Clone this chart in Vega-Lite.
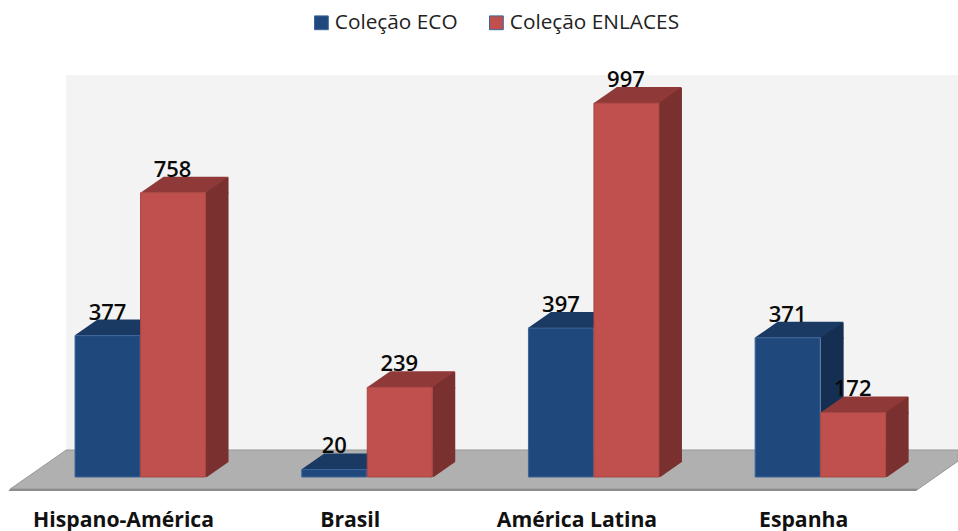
{
  "$schema": "https://vega.github.io/schema/vega-lite/v6.json",
  "width": 958,
  "height": 505,
  "padding": {"left": 0, "right": 0, "top": 0, "bottom": 26},
  "autosize": "none",
  "background": "white",
  "view": {"stroke": null},
  "config": {"font": "Open Sans"},
  "data": {"name": "colecoes"},
  "datasets": {
    "colecoes": [
      {"regiao": "Hispano-América", "colecao": "Coleção ECO", "total": 377},
      {"regiao": "Hispano-América", "colecao": "Coleção ENLACES", "total": 758},
      {"regiao": "Brasil", "colecao": "Coleção ECO", "total": 20},
      {"regiao": "Brasil", "colecao": "Coleção ENLACES", "total": 239},
      {"regiao": "América Latina", "colecao": "Coleção ECO", "total": 397},
      {"regiao": "América Latina", "colecao": "Coleção ENLACES", "total": 997},
      {"regiao": "Espanha", "colecao": "Coleção ECO", "total": 371},
      {"regiao": "Espanha", "colecao": "Coleção ENLACES", "total": 172}
    ],
    "ancora": [{"regiao": "Brasil", "total": 0}]
  },
  "encoding": {
    "x": {
      "field": "regiao",
      "type": "nominal",
      "sort": ["Hispano-América", "Brasil", "América Latina", "Espanha"],
      "scale": {"domain": ["Hispano-América", "Brasil", "América Latina", "Espanha"], "range": [27.2, 934], "paddingInner": 0, "paddingOuter": 0},
      "axis": {
        "title": null,
        "domain": false,
        "ticks": false,
        "labelAngle": 0,
        "labelOffset": -17,
        "labelPadding": 4,
        "labelFont": "Open Sans",
        "labelFontSize": 21.2,
        "labelFontWeight": "bold",
        "labelColor": "#111111",
        "labelLimit": 300
      }
    },
    "y": {
      "field": "total",
      "type": "quantitative",
      "scale": {"domain": [-74.67, 1272], "nice": false, "zero": false},
      "axis": null
    }
  },
  "layer": [
    {
      "description": "back wall",
      "data": {"name": "ancora"},
      "mark": {"type": "point", "shape": "M-301 -402L591 -402L591 -27L-301 -27Z", "size": 4, "filled": true, "opacity": 1, "fill": "#f3f3f3", "strokeWidth": 0}
    },
    {
      "description": "floor",
      "data": {"name": "ancora"},
      "mark": {"type": "point", "shape": "M-357 12L-301 -27L591 -27L591 -16L551 12Z", "size": 4, "filled": true, "opacity": 1, "fill": "#b0b0b0", "stroke": "#999999", "strokeWidth": 1}
    },
    {
      "description": "floor front edge",
      "data": {"name": "ancora"},
      "mark": {"type": "point", "shape": "M-357 12L551 12L549 14L-359 14Z", "size": 4, "filled": true, "opacity": 1, "fill": "#8c8c8c", "strokeWidth": 0}
    },
    {
      "description": "ECO side face",
      "transform": [{"filter": "datum.colecao === 'Coleção ECO'"}],
      "mark": {"type": "bar", "width": 23, "xOffset": 11.5, "fill": "#152f52"}
    },
    {
      "description": "ECO side face, upper block under the top face",
      "transform": [{"filter": "datum.colecao === 'Coleção ECO'"}],
      "mark": {"type": "point", "shape": "M0 1L0 -15.5L23 -15.5L23 1Z", "size": 4, "filled": true, "opacity": 1, "fill": "#152f52", "strokeWidth": 0}
    },
    {
      "description": "ECO top face",
      "transform": [{"filter": "datum.colecao === 'Coleção ECO'"}],
      "mark": {"type": "point", "shape": "M-66 0L-43 -16L23 -16L0 0Z", "size": 4, "filled": true, "opacity": 1, "fill": "#1a3a63", "strokeWidth": 0}
    },
    {
      "description": "ECO front face",
      "transform": [{"filter": "datum.colecao === 'Coleção ECO'"}],
      "mark": {"type": "bar", "width": 65, "xOffset": -33, "stroke": "#3a659c", "strokeWidth": 1},
      "encoding": {
        "color": {
          "field": "colecao",
          "type": "nominal",
          "scale": {"domain": ["Coleção ECO", "Coleção ENLACES"], "range": ["#1f497d", "#c0504d"]},
          "legend": {
            "title": null,
            "orient": "none",
            "legendX": 311,
            "legendY": 12,
            "direction": "horizontal",
            "symbolType": "square",
            "symbolSize": 190,
            "symbolStrokeWidth": 1,
            "labelFont": "Open Sans",
            "labelFontSize": 20.8,
            "labelColor": "#222222",
            "labelOffset": 3,
            "labelLimit": 300,
            "columnPadding": 28
          }
        }
      }
    },
    {
      "description": "ENLACES side face",
      "transform": [{"filter": "datum.colecao === 'Coleção ENLACES'"}],
      "mark": {"type": "bar", "width": 23, "xOffset": 76.5, "fill": "#7a302f"}
    },
    {
      "description": "ENLACES side face, upper block under the top face",
      "transform": [{"filter": "datum.colecao === 'Coleção ENLACES'"}],
      "mark": {"type": "point", "shape": "M65 1L65 -15.5L88 -15.5L88 1Z", "size": 4, "filled": true, "opacity": 1, "fill": "#7a302f", "strokeWidth": 0}
    },
    {
      "description": "floor showing under the slanted foot of the ENLACES side face",
      "transform": [{"filter": "datum.colecao === 'Coleção ENLACES'"}],
      "encoding": {"y": {"datum": 0}},
      "mark": {"type": "point", "shape": "M65 1L90 -16.4L90 1Z", "size": 4, "filled": true, "opacity": 1, "fill": "#b0b0b0", "strokeWidth": 0}
    },
    {
      "description": "ENLACES top face",
      "transform": [{"filter": "datum.colecao === 'Coleção ENLACES'"}],
      "mark": {"type": "point", "shape": "M0 0L23 -16L88 -16L65 0Z", "size": 4, "filled": true, "opacity": 1, "fill": "#8f3a38", "strokeWidth": 0}
    },
    {
      "description": "ENLACES front face",
      "transform": [{"filter": "datum.colecao === 'Coleção ENLACES'"}],
      "mark": {"type": "bar", "width": 65, "xOffset": 32.5, "stroke": "#a84643", "strokeWidth": 1},
      "encoding": {"color": {"field": "colecao", "type": "nominal"}}
    },
    {
      "description": "ECO value labels",
      "transform": [{"filter": "datum.colecao === 'Coleção ECO'"}],
      "mark": {"type": "text", "font": "Open Sans", "fontSize": 22, "fontWeight": 600, "color": "#0a0a0a", "dx": -33, "dy": -16, "baseline": "alphabetic"},
      "encoding": {"text": {"field": "total", "type": "quantitative"}}
    },
    {
      "description": "ENLACES value labels",
      "transform": [{"filter": "datum.colecao === 'Coleção ENLACES'"}],
      "mark": {"type": "text", "font": "Open Sans", "fontSize": 22, "fontWeight": 600, "color": "#0a0a0a", "dx": 32, "dy": -16, "baseline": "alphabetic"},
      "encoding": {"text": {"field": "total", "type": "quantitative"}}
    }
  ]
}
